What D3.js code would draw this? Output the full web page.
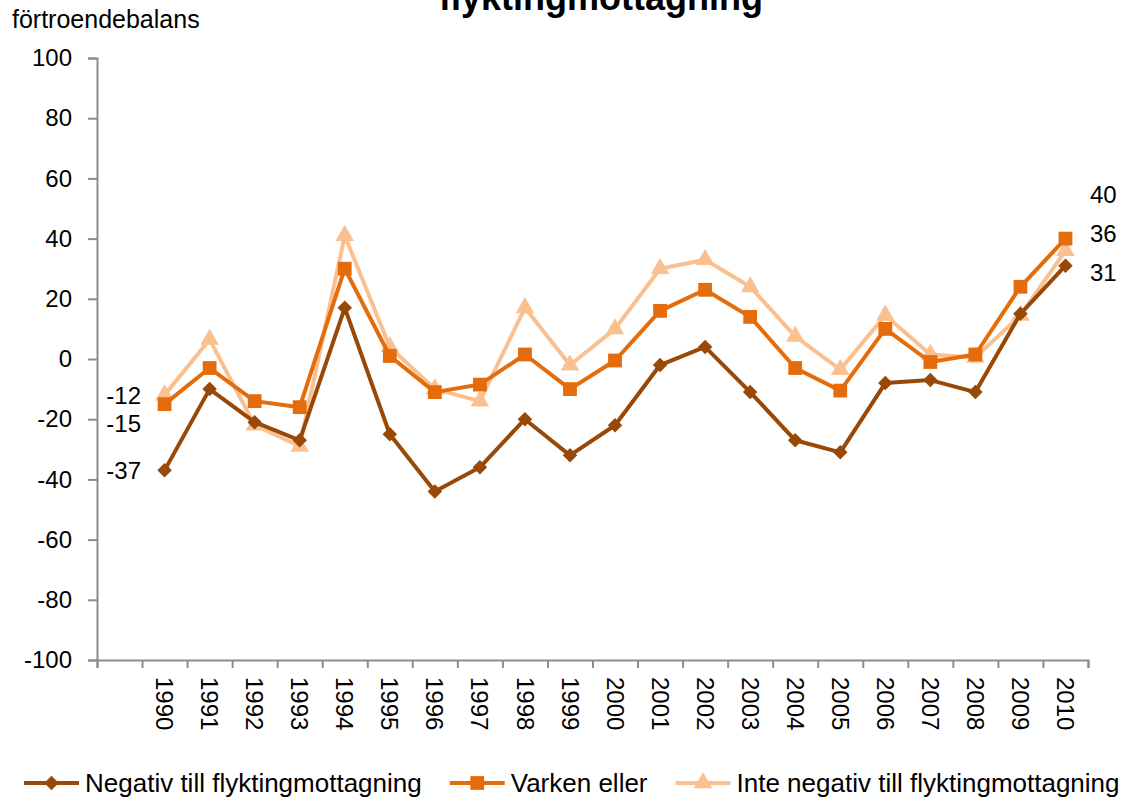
<!DOCTYPE html>
<html>
<head>
<meta charset="utf-8">
<script src="https://cdn.jsdelivr.net/npm/d3@7/dist/d3.min.js"></script>
<style>
  body { margin: 0; background: #fff; }
  svg { font-family: "Liberation Sans", Arial, sans-serif; }
</style>
</head>
<body>
<div id="chart-area"></div>
<script>
// data
var years = ["1990", "1991", "1992", "1993", "1994", "1995", "1996", "1997", "1998", "1999",
  "2000", "2001", "2002", "2003", "2004", "2005", "2006", "2007", "2008", "2009", "2010"];
var negativ = [-37, -10, -21, -27, 17, -25, -44, -36, -20, -32, -22, -2, 4, -11, -27, -31, -8, -7, -11, 15, 31];
var varken = [-15, -3, -14, -16, 30, 1, -11, -8.5, 1.5, -10, -0.5, 16, 23, 14, -3, -10.5, 10, -1, 1.5, 24, 40];
var inteNegativ = [-12, 6.5, -22, -29, 41, 4, -10, -14, 17, -2, 10, 30, 33, 24, 7.5, -3.5, 14.5, 1.5, 0.5, 14.5, 36];
var yTicks = [-100, -80, -60, -40, -20, 0, 20, 40, 60, 80, 100];
var seriesNames = ["Negativ till flyktingmottagning", "Varken eller", "Inte negativ till flyktingmottagning"];

var W = 1122, H = 803;
var svg = d3.select("#chart-area").append("svg")
  .attr("width", W).attr("height", H);

var series = [
  { name: seriesNames[0], values: negativ, color: "#984807", shape: "diamond" },
  { name: seriesNames[1], values: varken, color: "#E46C0A", shape: "square" },
  { name: seriesNames[2], values: inteNegativ, color: "#FAC090", shape: "triangle" }
];

// one empty slot before 1990 holds the left-hand labels
var x = d3.scaleBand().domain([""].concat(years)).range([97, 1088]).padding(0);
var cx = function(yr) { return x(yr) + x.bandwidth() / 2; };
var y = d3.scaleLinear().domain([-100, 100]).range([660, 58]);

// plain hyphen for negatives, like the original
var fmt = function(d) { return String(d); };

// title (only lower part visible)
svg.append("text")
  .attr("x", 601).attr("y", 10)
  .attr("text-anchor", "middle")
  .attr("font-size", "36px").attr("font-weight", "bold")
  .text("flyktingmottagning");

svg.append("text")
  .attr("x", 12).attr("y", 28)
  .attr("font-size", "25px")
  .text("förtroendebalans");

// y axis
var yAxis = svg.append("g")
  .attr("transform", "translate(97,0)")
  .call(d3.axisLeft(y).tickValues(yTicks).tickSize(9).tickPadding(16).tickFormat(fmt));
yAxis.selectAll("text").attr("font-size", "24px").attr("fill", "#000")
  .attr("font-family", "Liberation Sans, Arial, sans-serif");

// x axis: ticks at band boundaries
var xb = d3.scaleLinear().domain([0, years.length + 1]).range(x.range());
var xAxis = svg.append("g")
  .attr("transform", "translate(0,660)")
  .call(d3.axisBottom(xb).ticks(years.length + 1).tickSize(8).tickFormat(""));

svg.selectAll(".domain, .tick line").attr("stroke", "#8c8c8c").attr("stroke-width", 2);

svg.append("g").selectAll("text")
  .data(years).enter().append("text")
  .attr("transform", function(d) { return "translate(" + cx(d) + ",677) rotate(90)"; })
  .attr("dy", "0.35em")
  .attr("font-size", "24px")
  .text(function(d) { return d; });

// marker shapes
function marker(shape) {
  if (shape === "diamond") return d3.symbol().type(d3.symbolSquare).size(105)();
  if (shape === "square") return d3.symbol().type(d3.symbolSquare).size(190)();
  return d3.symbol().type(d3.symbolTriangle).size(150)();
}

var line = d3.line()
  .x(function(d, i) { return cx(years[i]); })
  .y(function(d) { return y(d); });

// draw back to front: triangle series behind, diamond on top
series.slice().reverse().forEach(function(s) {
  var g = svg.append("g");
  g.append("path")
    .attr("d", line(s.values))
    .attr("fill", "none")
    .attr("stroke", s.color)
    .attr("stroke-width", 4)
    .attr("stroke-linejoin", "round");
  g.selectAll("path.pt")
    .data(s.values).enter().append("path")
    .attr("class", "pt")
    .attr("d", marker(s.shape))
    .attr("fill", s.color)
    .attr("transform", function(d, i) {
      return "translate(" + cx(years[i]) + "," + y(d) + ")" + (s.shape === "diamond" ? " rotate(45)" : "");
    });
});

// end labels: first year on the left, last year on the right
var first = series.map(function(s) { return s.values[0]; }).sort(d3.descending);
var ly = [];
first.forEach(function(v, i) {
  var p = y(v);
  if (i > 0 && p < ly[i - 1] + 28) p = ly[i - 1] + 28;
  ly.push(p);
});
svg.append("g").selectAll("text")
  .data(first).enter().append("text")
  .attr("x", 141).attr("y", function(d, i) { return ly[i]; })
  .attr("dy", "0.35em")
  .attr("text-anchor", "end")
  .attr("font-size", "24px")
  .text(fmt);

var last = series.map(function(s) { return s.values[s.values.length - 1]; }).sort(d3.descending);
var lowest = y(last[last.length - 1]) + 7;
svg.append("g").selectAll("text")
  .data(last).enter().append("text")
  .attr("x", 1090)
  .attr("y", function(d, i) { return lowest - (last.length - 1 - i) * 39; })
  .attr("dy", "0.35em")
  .attr("font-size", "24px")
  .text(fmt);

// legend
var lx = 24, legY = 783;
series.forEach(function(s) {
  var g = svg.append("g");
  g.append("line")
    .attr("x1", lx).attr("x2", lx + 55)
    .attr("y1", legY).attr("y2", legY)
    .attr("stroke", s.color).attr("stroke-width", 4);
  g.append("path")
    .attr("d", marker(s.shape))
    .attr("fill", s.color)
    .attr("transform", "translate(" + (lx + 27.5) + "," + legY + ")" + (s.shape === "diamond" ? " rotate(45)" : ""));
  var t = g.append("text")
    .attr("x", lx + 61).attr("y", legY)
    .attr("dy", "0.35em")
    .attr("font-size", "26px")
    .text(s.name);
  lx = lx + 61 + t.node().getComputedTextLength() + 28;
});
</script>
</body>
</html>
